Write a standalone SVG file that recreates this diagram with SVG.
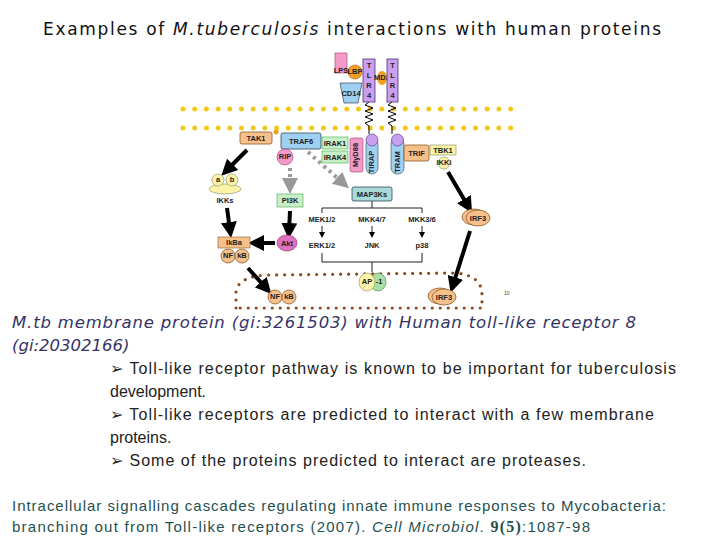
<svg xmlns="http://www.w3.org/2000/svg" width="720" height="540" viewBox="0 0 720 540">
<style>
.t{font-family:"DejaVu Sans",sans-serif}
.l{font-family:"Liberation Sans",Arial,sans-serif}
.n{font-family:"Liberation Sans",Arial,sans-serif;font-weight:bold;font-size:7.5px;text-anchor:middle;fill:#222}
.blk{stroke:#000;stroke-width:4;fill:none;marker-end:url(#ah)}
.thin{stroke:#222;stroke-width:1;fill:none}
.mem{stroke:#f2c81e;stroke-width:5;stroke-linecap:round;stroke-dasharray:0 11.7}
.or{fill:#f5c08a;stroke:#8a5a2a;stroke-width:0.8}
</style>
<defs>
<marker id="ah" markerWidth="4" markerHeight="4" refX="2" refY="2" orient="auto" markerUnits="strokeWidth"><path d="M0,0L4,2L0,4Z" fill="#000"/></marker>
<marker id="sa" markerWidth="6" markerHeight="6" refX="3" refY="3" orient="auto"><path d="M0,0L6,3L0,6Z" fill="#000"/></marker>
<marker id="ga" markerWidth="4" markerHeight="4" refX="2" refY="2" orient="auto" markerUnits="strokeWidth"><path d="M0,0L4,2L0,4Z" fill="#999"/></marker>
</defs>
<rect width="720" height="540" fill="#fff"/>
<text class="t" x="43" y="35" font-size="17" fill="#111" textLength="618">Examples of <tspan font-style="italic">M.tuberculosis</tspan> interactions with human proteins</text>

<g id="membrane"><line class="mem" x1="183" y1="109" x2="520" y2="109"/><line class="mem" x1="183" y1="128" x2="520" y2="128"/></g>
<g id="nucleus"><path d="M236,308 L236,292 Q238,276 268,275 L455,273 Q482,275 482,295 L482,308 Z" fill="none" stroke="#8b4a1e" stroke-width="3.2" stroke-linecap="round" stroke-dasharray="0 8"/></g>

<g id="connectors">
<line class="blk" x1="247" y1="150" x2="227" y2="170"/>
<line class="blk" x1="227" y1="208" x2="230" y2="230"/>
<line class="blk" x1="290" y1="211" x2="289" y2="231"/>
<line class="blk" x1="275" y1="243" x2="256" y2="243"/>
<line class="blk" x1="248" y1="268" x2="266" y2="288"/>
<line class="blk" x1="448" y1="172" x2="468" y2="206"/>
<line class="blk" x1="470" y1="231" x2="453" y2="285"/>
<line x1="290" y1="168" x2="290" y2="186" stroke="#999" stroke-width="4" stroke-dasharray="3 3" marker-end="url(#ga)"/>
<line x1="308" y1="152" x2="343" y2="183" stroke="#999" stroke-width="4" stroke-dasharray="3 4" marker-end="url(#ga)"/>
<path class="thin" d="M372,201V208M322,213V208H422V213"/>
<line class="thin" x1="322" y1="226" x2="322" y2="235" marker-end="url(#sa)"/>
<line class="thin" x1="372" y1="226" x2="372" y2="235" marker-end="url(#sa)"/>
<line class="thin" x1="422" y1="226" x2="422" y2="235" marker-end="url(#sa)"/>
<path class="thin" d="M322,253V262H422V253M372,262V272"/>
<path d="M369,102l-4,3l8,3l-8,3l8,3l-8,3l8,3l-8,3l4,3V134M392,102l-4,3l8,3l-8,3l8,3l-8,3l8,3l-8,3l4,3V134" fill="none" stroke="#000" stroke-width="1"/>
</g>

<g id="LPS"><rect x="335" y="53" width="12" height="20" fill="#f49ac8" stroke="#a04070" stroke-width="0.6"/><text class="n" x="341" y="73" font-size="6">LPS</text></g>
<g id="CD14"><path d="M340,83H362L358,103H344Z" fill="#9fd0f2" stroke="#345" stroke-width="0.7"/><text class="n" x="351" y="96" font-size="6">CD14</text></g>
<g id="LBP"><circle cx="355" cy="72" r="7" fill="#f0a020" stroke="#a06010" stroke-width="0.6"/><text class="n" x="355" y="74" font-size="6">LBP</text></g>
<g id="TLR4a"><rect x="363" y="59" width="12" height="43" fill="#c9a0f0" stroke="#503070" stroke-width="0.8"/><text class="n" x="369" y="68">T</text><text class="n" x="369" y="78">L</text><text class="n" x="369" y="88">R</text><text class="n" x="369" y="98">4</text></g>
<g id="MD2"><ellipse cx="382" cy="78" rx="5" ry="7" fill="#f0a020"/><text class="n" x="382" y="80" font-size="3">MD2</text></g>
<g id="TLR4b"><rect x="387" y="59" width="11" height="43" fill="#c9a0f0" stroke="#503070" stroke-width="0.8"/><text class="n" x="392.5" y="68">T</text><text class="n" x="392.5" y="78">L</text><text class="n" x="392.5" y="88">R</text><text class="n" x="392.5" y="98">4</text></g>

<g id="TAK1"><rect x="240" y="132" width="32" height="12" rx="2" fill="#f5c08a" stroke="#8a5a2a" stroke-width="0.8"/><text class="n" x="256" y="141">TAK1</text><circle cx="276" cy="132" r="2.5" fill="#f0a020"/></g>
<g id="TRAF6"><rect x="281" y="133" width="40" height="16" rx="2" fill="#9fd0f2" stroke="#345" stroke-width="0.8"/><text class="n" x="301" y="144">TRAF6</text></g>
<g id="IRAK1"><rect x="322" y="137" width="26" height="12" fill="#c8f0c8" stroke="#4a4" stroke-width="0.6"/><text class="n" x="335" y="146" font-weight="normal">IRAK1</text></g>
<g id="IRAK4"><rect x="322" y="151" width="26" height="12" fill="#c8f0c8" stroke="#4a4" stroke-width="0.6"/><text class="n" x="335" y="160" font-weight="normal">IRAK4</text></g>
<g id="MyD88"><rect x="350" y="138" width="13" height="34" rx="2" fill="#f49ac8" stroke="#a04070" stroke-width="0.6"/><text class="n" font-size="5" transform="translate(358,155) rotate(-90)">MyD88</text></g>
<g id="TIRAP"><rect x="366" y="138" width="12" height="36" rx="6" fill="#9fd0f2" stroke="#345" stroke-width="0.6"/><circle cx="372" cy="140" r="6" fill="#c9a0f0" stroke="#503070" stroke-width="0.6"/><text class="n" font-size="5" transform="translate(374,162) rotate(-90)">TIRAP</text></g>
<g id="TRAM"><rect x="391" y="138" width="13" height="36" rx="6" fill="#9fd0f2" stroke="#345" stroke-width="0.6"/><circle cx="397.5" cy="140" r="6" fill="#c9a0f0" stroke="#503070" stroke-width="0.6"/><text class="n" font-size="5" transform="translate(400,162) rotate(-90)">TRAM</text></g>
<g id="TRIF"><rect x="404" y="145" width="25" height="16" rx="2" fill="#f5c08a" stroke="#8a5a2a" stroke-width="0.8"/><text class="n" x="416.5" y="156">TRIF</text></g>
<g id="TBK1"><rect x="430" y="145" width="26" height="10" fill="#fbf3a8" stroke="#886" stroke-width="0.6"/><text class="n" x="443" y="153">TBK1</text><circle cx="444" cy="163" r="6" fill="#fbf3a8" stroke="#886" stroke-width="0.6"/><text class="n" x="444" y="165" font-size="3">IKKi</text></g>
<g id="RIP"><circle cx="285" cy="157" r="8" fill="#f49ac8" stroke="#a04070" stroke-width="0.6"/><text class="n" x="285" y="159" font-size="6" font-weight="normal">RIP</text></g>

<g id="IKKs"><ellipse cx="225" cy="189" rx="16" ry="5" fill="#fbf3a8" stroke="#886" stroke-width="0.6"/><circle cx="218" cy="180" r="6" fill="#fbf3a8" stroke="#886" stroke-width="0.6"/><circle cx="232" cy="180" r="6" fill="#fbf3a8" stroke="#886" stroke-width="0.6"/><text class="n" x="218" y="182">a</text><text class="n" x="232" y="182">b</text><text class="n" x="225" y="203">IKKs</text></g>
<g id="PI3K"><rect x="277" y="194" width="26" height="13" fill="#c8f0c8" stroke="#4a4" stroke-width="0.6"/><text class="n" x="290" y="203">PI3K</text></g>
<g id="MAP3Ks"><rect x="352" y="187" width="40" height="14" rx="2" fill="#a8dada" stroke="#345" stroke-width="0.8"/><text class="n" x="372" y="197">MAP3Ks</text></g>
<g id="kinases"><text class="n" x="322" y="222">MEK1/2</text><text class="n" x="372" y="222">MKK4/7</text><text class="n" x="422" y="222">MKK3/6</text><text class="n" x="322" y="248">ERK1/2</text><text class="n" x="372" y="248">JNK</text><text class="n" x="422" y="248">p38</text></g>
<g id="IkBa"><rect x="218" y="237" width="32" height="11" fill="#f5c08a" stroke="#8a5a2a" stroke-width="0.6"/><text class="n" x="234" y="245">IkBa</text><circle class="or" cx="228" cy="256" r="7"/><circle class="or" cx="242" cy="256" r="7"/><text class="n" x="228" y="258" font-size="6">NF</text><text class="n" x="242" y="258" font-size="6">kB</text></g>
<g id="Akt"><ellipse cx="287" cy="243" rx="10" ry="8" fill="#e070c0" stroke="#803060" stroke-width="0.6"/><text class="n" x="287" y="246">Akt</text></g>
<g id="AP1"><ellipse cx="378" cy="282" rx="8" ry="9" fill="#a8e0a8" stroke="#474" stroke-width="0.6"/><ellipse cx="367" cy="282" rx="8" ry="9" fill="#fbf3a8" stroke="#886" stroke-width="0.6"/><text class="n" x="367" y="284" font-size="6">AP</text><text class="n" x="379" y="284" font-size="6">-1</text></g>
<g id="IRF3a"><ellipse class="or" cx="474" cy="217" rx="12" ry="8"/><ellipse class="or" cx="478" cy="218" rx="12" ry="8"/><text class="n" x="478" y="221">IRF3</text></g>
<g id="NFkBn"><circle class="or" cx="275" cy="297" r="7"/><circle class="or" cx="289" cy="297" r="7"/><text class="n" x="275" y="299" font-size="6">NF</text><text class="n" x="289" y="299" font-size="6">kB</text></g>
<g id="IRF3b"><ellipse class="or" cx="440" cy="296" rx="12" ry="8"/><ellipse class="or" cx="444" cy="297" rx="12" ry="8"/><text class="n" x="444" y="300">IRF3</text></g>
<text class="l" x="504" y="295" font-size="5" fill="#444">10</text>

<text class="t" x="12" y="328" font-size="16.5" font-style="italic" fill="#333366" textLength="624">M.tb membrane protein (gi:3261503) with Human toll-like receptor 8</text>
<text class="t" x="12" y="351" font-size="16.5" font-style="italic" fill="#333366">(gi:20302166)</text>
<g class="l" font-size="16" fill="#222">
<text x="110" y="374" textLength="566">➢ Toll-like receptor pathway is known to be important for tuberculosis</text>
<text x="110" y="397">development.</text>
<text x="110" y="420" textLength="544">➢ Toll-like receptors are predicted to interact with a few membrane</text>
<text x="110" y="443">proteins.</text>
<text x="110" y="466" textLength="476">➢ Some of the proteins predicted to interact are proteases.</text>
</g>
<g class="l" font-size="15" fill="#1f5050">
<text x="12" y="511" textLength="654">Intracellular signalling cascades regulating innate immune responses to Mycobacteria:</text>
<text x="12" y="532" textLength="578">branching out from Toll-like receptors  (2007). <tspan font-style="italic">Cell Microbiol</tspan>. <tspan font-family="Liberation Serif" font-weight="bold" font-size="16">9(5)</tspan>:1087-98</text>
</g>
</svg>
